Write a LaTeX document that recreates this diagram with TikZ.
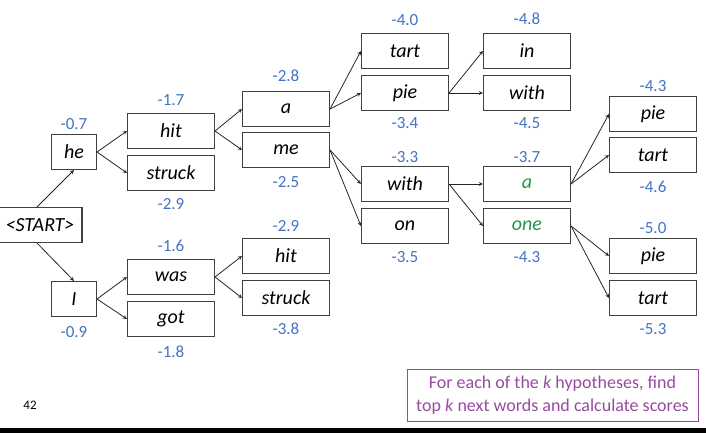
\documentclass[tikz,border=0pt]{standalone}
\usepackage{fontspec}
\setmainfont{Carlito}
\usetikzlibrary{positioning,calc,arrows,arrows.meta}

\definecolor{scoreblue}{HTML}{4472C4}
\definecolor{wordgreen}{RGB}{34,150,80}
\definecolor{notepurple}{RGB}{150,75,160}

\begin{document}
\begin{tikzpicture}[x=1pt, y=-1pt]
	\useasboundingbox (0,0) rectangle (706,433);
	\begin{scope}
		\tikzstyle{every node}=[align=center, inner sep=0.2em]
		\tikzstyle{word}=[draw=black!75, line width=1.1pt, minimum width=87pt, minimum height=35pt, font=\fontsize{20}{23}\selectfont\itshape]
		\tikzstyle{short}=[word, minimum width=45pt]
		\tikzstyle{score}=[text=scoreblue, font=\fontsize{17}{20}\selectfont]
		\tikzstyle{edge}=[->, >=stealth, line width=0.8pt, black!85]

		\node[word, minimum width=84pt] (start) at (40, 225) {<START>};

		\node[short] (he) at (74, 152) {he};
		\node[short] (i)  at (74, 299) {I};

		\node[word] (hit)    at (171, 131) {hit};
		\node[word] (struck) at (171, 173) {struck};
		\node[word] (was)    at (171, 277) {was};
		\node[word] (got)    at (171, 319) {got};

		\node[word] (a)       at (286, 109) {a};
		\node[word] (me)      at (286, 150) {me};
		\node[word] (hitb)    at (286, 256) {hit};
		\node[word] (struckb) at (286, 298) {struck};

		\node[word] (tart) at (405, 51)  {tart};
		\node[word] (pie)  at (405, 93)  {pie};
		\node[word] (with) at (405, 184) {with};
		\node[word] (on)   at (405, 226) {on};

		\node[word] (in)    at (527, 51)  {in};
		\node[word] (withb) at (527, 93)  {with};
		\node[word, text=wordgreen] (ab)  at (527, 184) {a};
		\node[word, text=wordgreen] (one) at (527, 226) {one};

		\node[word] (piec)  at (653, 114) {pie};
		\node[word] (tartc) at (653, 155) {tart};
		\node[word] (pied)  at (653, 256) {pie};
		\node[word] (tartd) at (653, 298) {tart};

		% scores
		\node[score] at (74, 124)  {-0.7};
		\node[score] at (74, 332)  {-0.9};
		\node[score] at (171, 100) {-1.7};
		\node[score] at (171, 204) {-2.9};
		\node[score] at (171, 246) {-1.6};
		\node[score] at (171, 352) {-1.8};
		\node[score] at (286, 76)  {-2.8};
		\node[score] at (286, 182) {-2.5};
		\node[score] at (286, 226) {-2.9};
		\node[score] at (286, 329) {-3.8};
		\node[score] at (405, 20)  {-4.0};
		\node[score] at (405, 123) {-3.4};
		\node[score] at (405, 157) {-3.3};
		\node[score] at (405, 257) {-3.5};
		\node[score] at (527, 19)  {-4.8};
		\node[score] at (527, 123) {-4.5};
		\node[score] at (527, 157) {-3.7};
		\node[score] at (527, 257) {-4.3};
		\node[score] at (653, 86)  {-4.3};
		\node[score] at (653, 187) {-4.6};
		\node[score] at (653, 228) {-5.0};
		\node[score] at (653, 329) {-5.3};

		\draw [edge] ([xshift=-3pt]start.north) to (he.south);
		\draw [edge] ([xshift=-3pt]start.south) to (i.north);

		\draw [edge] (he.east) to (hit.west);
		\draw [edge] (he.east) to (struck.west);
		\draw [edge] (i.east) to (was.west);
		\draw [edge] (i.east) to (got.west);

		\draw [edge] (hit.east) to (a.west);
		\draw [edge] (hit.east) to (me.west);
		\draw [edge] (was.east) to (hitb.west);
		\draw [edge] (was.east) to (struckb.west);

		\draw [edge] (a.east) to (tart.west);
		\draw [edge] (a.east) to (pie.west);
		\draw [edge] (me.east) to (with.west);
		\draw [edge] (me.east) to (on.west);

		\draw [edge] (pie.east) to (in.west);
		\draw [edge] (pie.east) to (withb.west);
		\draw [edge] (with.east) to (ab.west);
		\draw [edge] (with.east) to (one.west);

		\draw [edge] (ab.east) to (piec.west);
		\draw [edge] (ab.east) to (tartc.west);
		\draw [edge] (one.east) to (pied.west);
		\draw [edge] (one.east) to (tartd.west);

		\node[draw=notepurple, line width=1pt, text=notepurple, minimum width=291pt, minimum height=52pt, font=\fontsize{18}{23}\selectfont] (note) at (552.5, 395) {For each of the \textit{k} hypotheses, find\\top \textit{k} next words and calculate scores};

		\node[font=\fontsize{13}{15}\selectfont] (page) at (30, 405) {42};
	\end{scope}
	\fill (0, 428) rectangle (706, 433);
\end{tikzpicture}
\end{document}
